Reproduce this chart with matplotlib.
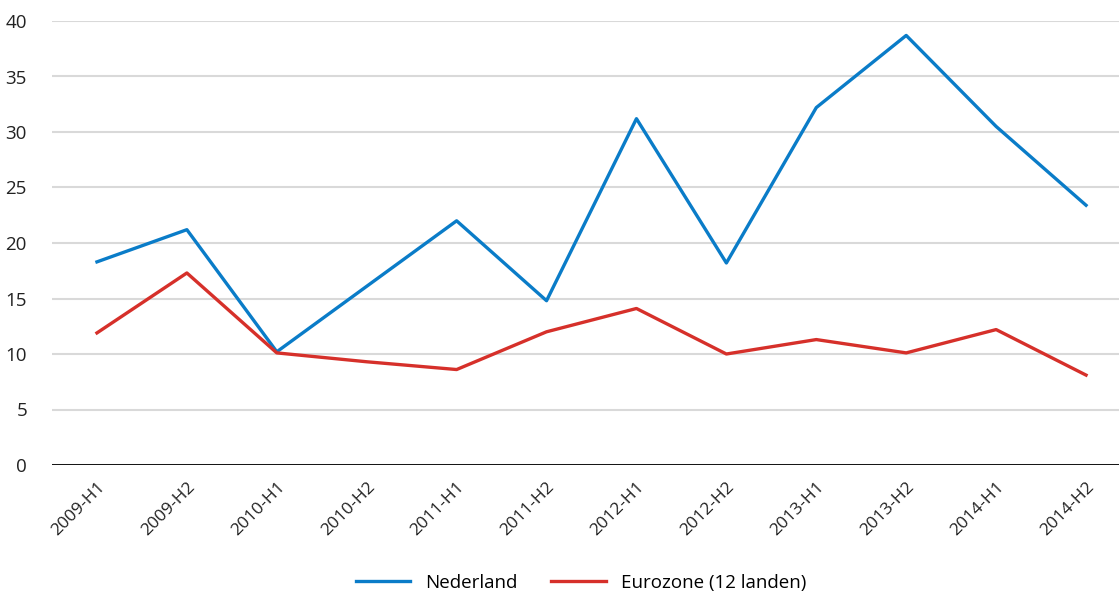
import matplotlib.pyplot as plt
import numpy as np

plt.rcParams['font.family'] = ['Open Sans', 'DejaVu Sans']

# Data
periods = ['2009-H1', '2009-H2', '2010-H1', '2010-H2', '2011-H1', '2011-H2',
           '2012-H1', '2012-H2', '2013-H1', '2013-H2', '2014-H1', '2014-H2']
nederland = [18.3, 21.2, 10.2, 16.1, 22.0, 14.8, 31.2, 18.2, 32.2, 38.7, 30.5, 23.4]
eurozone = [11.9, 17.3, 10.1, 9.3, 8.6, 12.0, 14.1, 10.0, 11.3, 10.1, 12.2, 8.1]
yticks = [0, 5, 10, 15, 20, 25, 30, 35, 40]

BLUE = '#0a7cc8'
RED = '#d6302a'
GRID = '#d9d9d9'

fig = plt.figure(figsize=(11.19, 5.94), dpi=100)
ax = fig.add_axes([52 / 1119, 1 - 465 / 594, 1079 / 1119, 444 / 594])

x = np.arange(len(periods))
ax.plot(x, nederland, color=BLUE, linewidth=2.4, label='Nederland')
ax.plot(x, eurozone, color=RED, linewidth=2.4, label='Eurozone (12 landen)')

ax.set_xlim(-0.5, len(periods) - 0.5)
ax.set_ylim(0, 40)
ax.set_yticks(yticks)
ax.set_yticklabels([str(v) for v in yticks], fontsize=13.5, color='#222222')
ax.yaxis.grid(True, color=GRID, linewidth=1.5)
ax.set_axisbelow(True)
ax.axhline(0, color='black', linewidth=2, zorder=1)

ax.set_xticks(x)
ax.set_xticklabels(periods, rotation=45, ha='right', rotation_mode='anchor',
                   fontsize=12.5, color='#222222')
ax.tick_params(axis='both', length=0)
ax.tick_params(axis='x', pad=10)
ax.tick_params(axis='y', pad=18)

for s in ax.spines.values():
    s.set_visible(False)

fig.legend(loc='lower center', bbox_to_anchor=(0.519, -0.025), ncol=2,
           frameon=False, fontsize=13.5, handlelength=2.9, columnspacing=1.8)

plt.savefig('out.png', dpi=100)
